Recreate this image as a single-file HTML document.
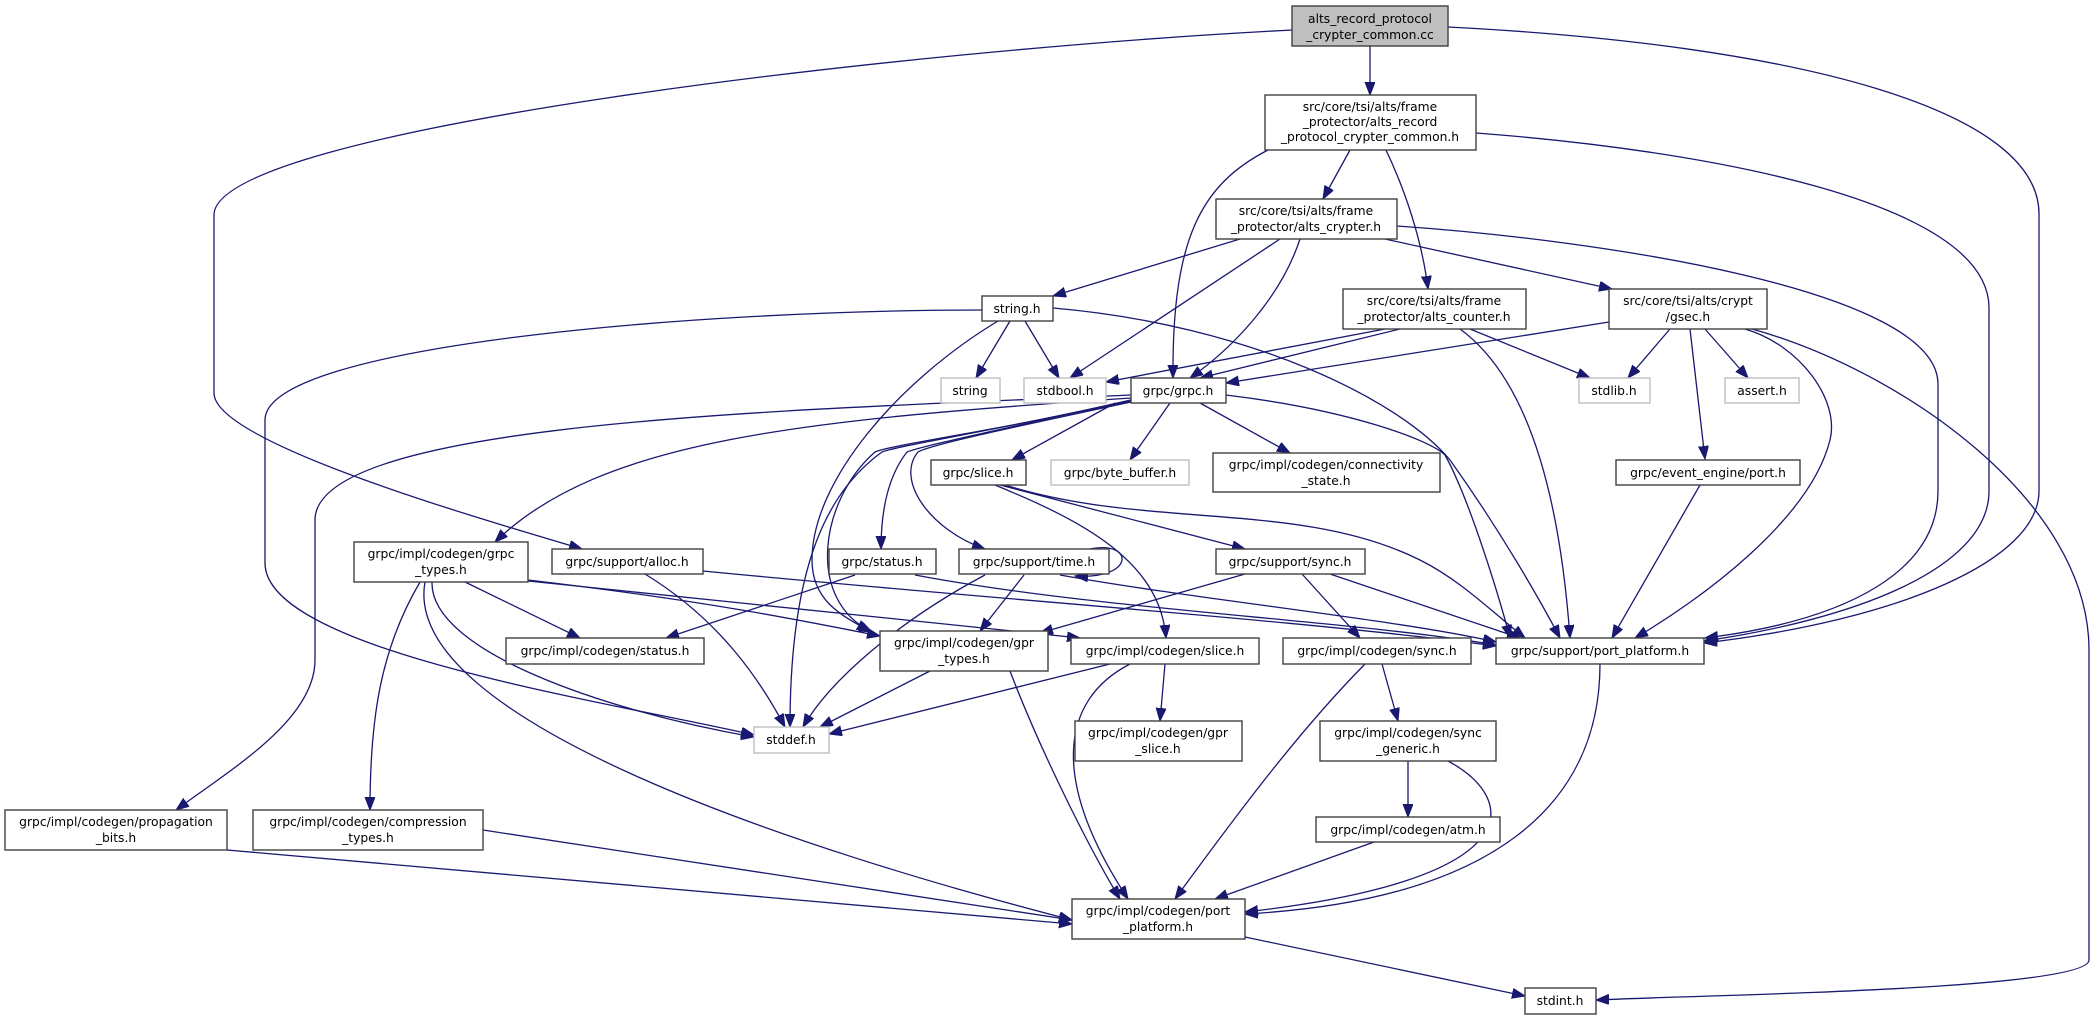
<!DOCTYPE html>
<html><head><meta charset="utf-8"><style>
html,body{margin:0;padding:0;background:#fff;}
svg{display:block;}
text{font-family:"DejaVu Sans","Liberation Sans",sans-serif;font-size:12.3px;fill:#000;text-anchor:middle;}
.n{fill:#fff;stroke:#404040;stroke-width:1.4;}
.g{fill:#fff;stroke:#bfbfbf;stroke-width:1.4;}
.r{fill:#bfbfbf;stroke:#404040;stroke-width:1.4;}
path.e{fill:none;stroke:#191970;stroke-width:1.3;marker-end:url(#a);}
</style></head><body>
<svg width="2096" height="1020" viewBox="0 0 2096 1020" xmlns="http://www.w3.org/2000/svg">
<defs><marker id="a" markerUnits="userSpaceOnUse" markerWidth="14" markerHeight="12" refX="13" refY="5" orient="auto"><path d="M0,0 L13,5 L0,10 z" fill="#191970" stroke="#191970"/></marker></defs>
<g>
<path class="e" d="M1370,46 L1370,95"/>
<path class="e" d="M1292,30 C900,50 214,130 214,215 L214,393 C214,440 450,510 582,549"/>
<path class="e" d="M1448,27 C1800,45 2039,110 2039,214 L2039,491 C2039,560 1900,620 1704,643"/>
<path class="e" d="M1350,150 L1323,199"/>
<path class="e" d="M1268,150 C1200,185 1172,240 1173,378"/>
<path class="e" d="M1386,150 C1405,190 1422,240 1428,289"/>
<path class="e" d="M1476,133 C1700,150 1989,200 1989,308 L1989,491 C1989,570 1850,620 1704,641"/>
<path class="e" d="M1240,239 L1053,296"/>
<path class="e" d="M1280,239 L1070,378"/>
<path class="e" d="M1300,239 C1280,300 1230,350 1190,378"/>
<path class="e" d="M1385,239 L1612,289"/>
<path class="e" d="M1397,226 C1600,240 1938,290 1938,384 L1938,491 C1938,570 1850,620 1705,638"/>
<path class="e" d="M1010,321 L976,378"/>
<path class="e" d="M1025,321 L1059,378"/>
<path class="e" d="M982,310 C700,310 265,345 265,420 L265,563 C265,650 600,700 754,735"/>
<path class="e" d="M998,321 C900,380 812,480 812,560 C812,600 840,615 870,631"/>
<path class="e" d="M1053,308 C1250,325 1400,400 1450,460 C1500,530 1540,600 1560,638"/>
<path class="e" d="M1385,329 L1106,382"/>
<path class="e" d="M1400,329 L1200,378"/>
<path class="e" d="M1470,329 L1590,378"/>
<path class="e" d="M1460,329 C1530,380 1560,500 1570,638"/>
<path class="e" d="M1609,322 L1226,383"/>
<path class="e" d="M1670,329 L1628,378"/>
<path class="e" d="M1705,329 L1748,378"/>
<path class="e" d="M1690,329 L1705,459"/>
<path class="e" d="M1745,329 C1800,345 1840,400 1830,440 C1810,520 1700,600 1635,638"/>
<path class="e" d="M1752,329 C1900,370 2089,500 2089,650 L2089,960 C2089,990 1700,995 1596,1000"/>
<path class="e" d="M1700,485 L1612,638"/>
<path class="e" d="M1115,403 L1012,460"/>
<path class="e" d="M1170,403 L1130,460"/>
<path class="e" d="M1200,403 L1290,453"/>
<path class="e" d="M1226,395 C1350,410 1430,440 1445,455 C1470,500 1500,600 1510,638"/>
<path class="e" d="M1131,400 C1000,430 925,445 907,452 C885,480 881,520 881,549"/>
<path class="e" d="M1131,402 C1000,430 930,445 918,452 C895,480 930,530 985,549"/>
<path class="e" d="M1131,400 C1000,430 900,445 882,452 C830,490 790,560 790,727"/>
<path class="e" d="M1131,401 C1000,430 890,445 875,452 C820,500 805,600 872,632"/>
<path class="e" d="M1131,398 C800,420 600,440 495,542"/>
<path class="e" d="M1131,395 C800,410 315,420 315,520 L315,660 C315,720 230,770 176,810"/>
<path class="e" d="M995,485 C1080,520 1160,560 1166,638"/>
<path class="e" d="M1000,485 L1245,549"/>
<path class="e" d="M1005,485 C1150,530 1300,500 1420,560 C1460,580 1490,610 1525,638"/>
<path class="e" d="M1090,549 C1135,540 1135,580 1075,576"/>
<path class="e" d="M1024,575 L980,631"/>
<path class="e" d="M985,575 C900,620 830,680 803,727"/>
<path class="e" d="M1060,575 C1200,600 1400,620 1496,642"/>
<path class="e" d="M855,575 L666,638"/>
<path class="e" d="M915,575 C1100,610 1350,620 1496,645"/>
<path class="e" d="M1245,574 L1040,633"/>
<path class="e" d="M1302,574 L1360,638"/>
<path class="e" d="M1330,574 L1520,638"/>
<path class="e" d="M645,574 C720,620 760,680 785,727"/>
<path class="e" d="M703,571 C1000,600 1300,620 1496,646"/>
<path class="e" d="M465,582 L580,638"/>
<path class="e" d="M528,580 C700,600 800,620 880,636"/>
<path class="e" d="M528,581 C800,610 1000,630 1080,638"/>
<path class="e" d="M432,582 C430,650 600,710 754,737"/>
<path class="e" d="M425,582 C400,720 800,850 1072,920"/>
<path class="e" d="M420,582 C380,650 370,720 370,810"/>
<path class="e" d="M930,671 L820,727"/>
<path class="e" d="M1010,671 C1040,750 1090,850 1120,899"/>
<path class="e" d="M1165,664 L1160,721"/>
<path class="e" d="M1110,664 L829,734"/>
<path class="e" d="M1130,664 C1060,700 1050,780 1128,899"/>
<path class="e" d="M1382,664 L1398,721"/>
<path class="e" d="M1365,664 C1300,730 1240,810 1175,899"/>
<path class="e" d="M1408,761 L1408,817"/>
<path class="e" d="M1448,761 C1520,800 1530,880 1245,912"/>
<path class="e" d="M1374,842 L1215,899"/>
<path class="e" d="M1600,664 C1600,800 1500,900 1245,914"/>
<path class="e" d="M227,850 L1072,924"/>
<path class="e" d="M483,830 L1072,920"/>
<path class="e" d="M1245,937 L1525,996"/>
</g>
<g>
<rect class="r" x="1292" y="6" width="156" height="40"/><text x="1370" y="23">alts_record_protocol</text><text x="1370" y="39">_crypter_common.cc</text>
<rect class="n" x="1265" y="95" width="211" height="55"/><text x="1370" y="111">src/core/tsi/alts/frame</text><text x="1370" y="126">_protector/alts_record</text><text x="1370" y="141">_protocol_crypter_common.h</text>
<rect class="n" x="1216" y="199" width="181" height="40"/><text x="1306" y="215">src/core/tsi/alts/frame</text><text x="1306" y="231">_protector/alts_crypter.h</text>
<rect class="n" x="982" y="296" width="71" height="25"/><text x="1017" y="313">string.h</text>
<rect class="n" x="1343" y="289" width="183" height="40"/><text x="1434" y="305">src/core/tsi/alts/frame</text><text x="1434" y="321">_protector/alts_counter.h</text>
<rect class="n" x="1609" y="289" width="158" height="40"/><text x="1688" y="305">src/core/tsi/alts/crypt</text><text x="1688" y="321">/gsec.h</text>
<rect class="g" x="941" y="378" width="59" height="25"/><text x="970" y="395">string</text>
<rect class="g" x="1024" y="378" width="82" height="25"/><text x="1065" y="395">stdbool.h</text>
<rect class="n" x="1131" y="378" width="95" height="25"/><text x="1178" y="395">grpc/grpc.h</text>
<rect class="g" x="1579" y="378" width="71" height="25"/><text x="1614" y="395">stdlib.h</text>
<rect class="g" x="1725" y="378" width="74" height="25"/><text x="1762" y="395">assert.h</text>
<rect class="n" x="931" y="460" width="95" height="25"/><text x="978" y="477">grpc/slice.h</text>
<rect class="g" x="1051" y="460" width="138" height="25"/><text x="1120" y="477">grpc/byte_buffer.h</text>
<rect class="n" x="1213" y="453" width="227" height="39"/><text x="1326" y="469">grpc/impl/codegen/connectivity</text><text x="1326" y="485">_state.h</text>
<rect class="n" x="1616" y="460" width="184" height="25"/><text x="1708" y="477">grpc/event_engine/port.h</text>
<rect class="n" x="354" y="542" width="174" height="40"/><text x="441" y="558">grpc/impl/codegen/grpc</text><text x="441" y="574">_types.h</text>
<rect class="n" x="552" y="549" width="151" height="25"/><text x="627" y="566">grpc/support/alloc.h</text>
<rect class="n" x="829" y="549" width="107" height="25"/><text x="882" y="566">grpc/status.h</text>
<rect class="n" x="959" y="549" width="150" height="25"/><text x="1034" y="566">grpc/support/time.h</text>
<rect class="n" x="1216" y="549" width="149" height="25"/><text x="1290" y="566">grpc/support/sync.h</text>
<rect class="n" x="506" y="638" width="198" height="26"/><text x="605" y="655">grpc/impl/codegen/status.h</text>
<rect class="n" x="880" y="631" width="168" height="40"/><text x="964" y="647">grpc/impl/codegen/gpr</text><text x="964" y="663">_types.h</text>
<rect class="n" x="1071" y="638" width="188" height="26"/><text x="1165" y="655">grpc/impl/codegen/slice.h</text>
<rect class="n" x="1283" y="638" width="188" height="26"/><text x="1377" y="655">grpc/impl/codegen/sync.h</text>
<rect class="n" x="1496" y="638" width="208" height="26"/><text x="1600" y="655">grpc/support/port_platform.h</text>
<rect class="g" x="754" y="727" width="75" height="26"/><text x="791" y="744">stddef.h</text>
<rect class="n" x="1075" y="721" width="167" height="40"/><text x="1158" y="737">grpc/impl/codegen/gpr</text><text x="1158" y="753">_slice.h</text>
<rect class="n" x="1320" y="721" width="176" height="40"/><text x="1408" y="737">grpc/impl/codegen/sync</text><text x="1408" y="753">_generic.h</text>
<rect class="n" x="5" y="810" width="222" height="40"/><text x="116" y="826">grpc/impl/codegen/propagation</text><text x="116" y="842">_bits.h</text>
<rect class="n" x="253" y="810" width="230" height="40"/><text x="368" y="826">grpc/impl/codegen/compression</text><text x="368" y="842">_types.h</text>
<rect class="n" x="1316" y="817" width="184" height="25"/><text x="1408" y="834">grpc/impl/codegen/atm.h</text>
<rect class="n" x="1072" y="899" width="173" height="40"/><text x="1158" y="915">grpc/impl/codegen/port</text><text x="1158" y="931">_platform.h</text>
<rect class="n" x="1525" y="988" width="71" height="26"/><text x="1560" y="1005">stdint.h</text>
</g>
</svg>
</body></html>
